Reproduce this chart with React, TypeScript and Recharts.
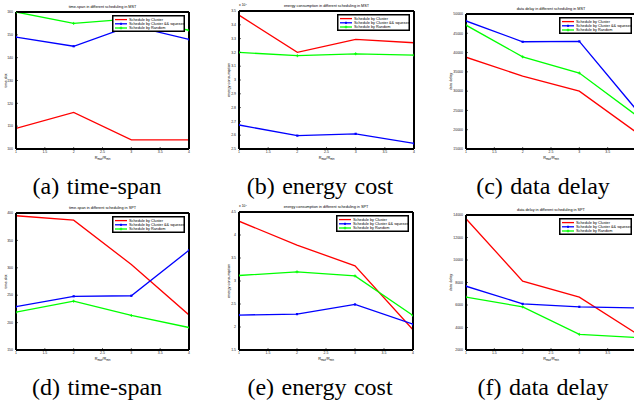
import React from 'react';
import { LineChart, Line, XAxis, YAxis, Legend } from 'recharts';

const xValues = [1, 2, 3, 4];
const xTicks = [1, 1.5, 2, 2.5, 3, 3.5, 4];
const seriesNames = ['Schedule by Cluster', 'Schedule by Cluster && squeeze', 'Schedule by Random'];
const seriesColors = ['#ff0000', '#0000ff', '#00ff00'];

// MST row
const mstSpanCluster = [109, 116, 104, 104];
const mstSpanSqueeze = [149, 145, 154, 148];
const mstSpanRandom = [160, 155, 157, 152];
const mstSpanTicks = [100, 110, 120, 130, 140, 150, 160];

const mstEnergyCluster = [3.47, 3.2, 3.295, 3.27];
const mstEnergySqueeze = [2.674, 2.597, 2.61, 2.54];
const mstEnergyRandom = [3.2, 3.176, 3.19, 3.18];
const mstEnergyTicks = [2.5, 2.6, 2.7, 2.8, 2.9, 3, 3.1, 3.2, 3.3, 3.4, 3.5];

const mstDelayCluster = [38800, 33900, 30000, 19400];
const mstDelaySqueeze = [48200, 42800, 42900, 25300];
const mstDelayRandom = [47100, 38900, 34700, 23800];
const mstDelayTicks = [15000, 20000, 25000, 30000, 35000, 40000, 45000, 50000];

// SPT row
const sptSpanCluster = [395, 387, 306, 214];
const sptSpanSqueeze = [229, 248, 249, 332];
const sptSpanRandom = [219, 239, 213, 191];
const sptSpanTicks = [150, 200, 250, 300, 350, 400];

const sptEnergyCluster = [4.3, 3.78, 3.33, 1.94];
const sptEnergySqueeze = [2.26, 2.28, 2.49, 2.06];
const sptEnergyRandom = [3.12, 3.2, 3.11, 2.25];
const sptEnergyTicks = [1.5, 2, 2.5, 3, 3.5, 4, 4.5];

const sptDelayCluster = [13670, 8120, 6700, 3480];
const sptDelaySqueeze = [7670, 6100, 5840, 5750];
const sptDelayRandom = [6700, 5840, 3390, 3120];
const sptDelayTicks = [2000, 4000, 6000, 8000, 10000, 12000, 14000];

const captions = [
  { text: '(a) time-span', x: 97, y: 194 },
  { text: '(b) energy cost', x: 320, y: 194 },
  { text: '(c) data delay', x: 543, y: 194 },
  { text: '(d) time-span', x: 97, y: 395 },
  { text: '(e) energy cost', x: 320, y: 395 },
  { text: '(f) data delay', x: 543, y: 395 },
];

const buildRows = (cluster: number[], squeeze: number[], random: number[]) =>
  xValues.map((x, i) => ({ x, cluster: cluster[i], squeeze: squeeze[i], random: random[i] }));

const ML = 20;
const MT = 12;
const MR = 10;
const MB = 14;
const FONT = "'Liberation Sans', Arial, sans-serif";
const tickStyle = { fontSize: 3.5, fill: '#222', fontFamily: FONT };
const tickLineStyle = { stroke: '#000', strokeWidth: 0.6 };
const frameStyle = { stroke: '#000', strokeWidth: 2 };

const SquareDot = (props: any) => {
  const { cx, cy, index } = props;
  if (cx == null || cy == null) return null;
  return <rect key={`sq${index}`} x={cx - 1.1} y={cy - 1.1} width={2.2} height={2.2} fill="#0000ff" />;
};

const PlusDot = (props: any) => {
  const { cx, cy, index } = props;
  if (cx == null || cy == null) return null;
  return (
    <path
      key={`pl${index}`}
      d={`M${cx - 1.5},${cy}H${cx + 1.5}M${cx},${cy - 1.5}V${cy + 1.5}`}
      stroke="#00ff00"
      strokeWidth={0.9}
    />
  );
};

function BoxLegend() {
  return (
    <svg width={73} height={17} style={{ display: 'block' }}>
      <rect x={0.75} y={0.75} width={71.5} height={15.5} fill="#fff" stroke="#000" strokeWidth={1.5} />
      {seriesNames.map((n, i) => {
        const y = 4.6 + i * 4.2;
        return (
          <g key={n}>
            <line x1={3} x2={15} y1={y} y2={y} stroke={seriesColors[i]} strokeWidth={1.3} />
            {i === 1 && <rect x={8} y={y - 1} width={2} height={2} fill="#0000ff" />}
            {i === 2 && <path d={`M7.6,${y}H10.4M9,${y - 1.4}V${y + 1.4}`} stroke="#00ff00" strokeWidth={0.9} />}
            <text x={17} y={y + 1.3} fontSize={3.8} fontFamily={FONT} fill="#000">
              {n}
            </text>
          </g>
        );
      })}
    </svg>
  );
}

interface PanelProps {
  left: number;
  top: number;
  w: number;
  h: number;
  rows: Array<{ x: number; cluster: number; squeeze: number; random: number }>;
  yTicks: number[];
  title: string;
  yLabel: string;
  yLabelGap: number;
  exponent?: boolean;
  cutRight?: boolean;
}

function Panel({ left, top, w, h, rows, yTicks, title, yLabel, yLabelGap, exponent, cutRight }: PanelProps) {
  const width = w + ML + MR;
  const height = h + MT + MB;
  const domain: [number, number] = [yTicks[0], yTicks[yTicks.length - 1]];
  const cx = ML + w / 2;
  // the last x label falls past the page edge in the right column
  const xFmt = (v: number) => (cutRight && v === 4 ? '' : String(v));
  return (
    <div style={{ position: 'absolute', left: left - ML, top: top - MT, width, height }}>
      <LineChart
        width={width}
        height={height}
        data={rows}
        margin={{ top: MT - 1, right: MR - 1, left: ML - 14, bottom: MB - 8 }}
      >
        <XAxis
          xAxisId="b"
          type="number"
          dataKey="x"
          domain={[1, 4]}
          ticks={xTicks}
          interval={0}
          allowDataOverflow
          height={8}
          axisLine={frameStyle}
          tickSize={-2}
          tickMargin={4}
          tickLine={tickLineStyle}
          tick={tickStyle}
          tickFormatter={xFmt}
        />
        <XAxis
          xAxisId="t"
          orientation="top"
          type="number"
          dataKey="x"
          domain={[1, 4]}
          ticks={xTicks}
          interval={0}
          allowDataOverflow
          height={1}
          axisLine={frameStyle}
          tickSize={-2}
          tickLine={tickLineStyle}
          tick={false}
        />
        <YAxis
          yAxisId="l"
          type="number"
          domain={domain}
          ticks={yTicks}
          interval={0}
          allowDataOverflow
          width={14}
          axisLine={frameStyle}
          tickSize={-2}
          tickMargin={5}
          tickLine={tickLineStyle}
          tick={tickStyle}
        />
        <YAxis
          yAxisId="r"
          orientation="right"
          type="number"
          domain={domain}
          ticks={yTicks}
          interval={0}
          allowDataOverflow
          width={1}
          axisLine={frameStyle}
          tickSize={-2}
          tickLine={tickLineStyle}
          tick={false}
        />
        <Line
          xAxisId="b"
          yAxisId="l"
          dataKey="cluster"
          name={seriesNames[0]}
          stroke={seriesColors[0]}
          strokeWidth={1.3}
          dot={false}
          type="linear"
          isAnimationActive={false}
        />
        <Line
          xAxisId="b"
          yAxisId="l"
          dataKey="squeeze"
          name={seriesNames[1]}
          stroke={seriesColors[1]}
          strokeWidth={1.3}
          dot={SquareDot}
          type="linear"
          isAnimationActive={false}
        />
        <Line
          xAxisId="b"
          yAxisId="l"
          dataKey="random"
          name={seriesNames[2]}
          stroke={seriesColors[2]}
          strokeWidth={1.3}
          dot={PlusDot}
          type="linear"
          isAnimationActive={false}
        />
        <Legend
          layout="horizontal"
          align="center"
          verticalAlign="middle"
          content={<BoxLegend />}
          wrapperStyle={{ left: ML + w - 4 - 73, top: MT + 2.5, width: 73, height: 17 }}
        />
      </LineChart>
      <svg
        width={width}
        height={height}
        style={{ position: 'absolute', left: 0, top: 0, pointerEvents: 'none', overflow: 'visible' }}
      >
        <text x={cx} y={MT - 3.7} textAnchor="middle" fontSize={3.8} fontFamily={FONT} fill="#000">
          {title}
        </text>
        <text x={cx} y={MT + h + 9.5} textAnchor="middle" fontSize={3.8} fontFamily={FONT} fill="#000">
          R<tspan fontSize={2.6} dy={1}>max</tspan>
          <tspan dy={-1}>/R</tspan>
          <tspan fontSize={2.6} dy={1}>min</tspan>
        </text>
        <text
          transform={`translate(${ML - yLabelGap}, ${MT + h / 2}) rotate(-90)`}
          textAnchor="middle"
          fontSize={3.8}
          fontFamily={FONT}
          fill="#000"
        >
          {yLabel}
        </text>
        {exponent && (
          <text x={ML} y={MT - 5} fontSize={3.4} fontFamily={FONT} fill="#000">
            x 10<tspan fontSize={2.4} dy={-1.5}>4</tspan>
          </text>
        )}
      </svg>
    </div>
  );
}

export default function App() {
  return (
    <div
      style={{
        position: 'absolute',
        left: 0,
        top: 0,
        width: 634,
        height: 400,
        background: '#fff',
        overflow: 'hidden',
      }}
    >
      <svg width={634} height={400} style={{ position: 'absolute', left: 0, top: 0 }}>
        {captions.map((c) => (
          <text
            key={c.text}
            x={c.x}
            y={c.y}
            textAnchor="middle"
            fontSize={24}
            fontFamily="'Liberation Serif', 'Times New Roman', serif"
            fill="#000"
            style={{ wordSpacing: 1.5 }}
          >
            {c.text}
          </text>
        ))}
      </svg>
      <Panel
        left={16}
        top={12}
        w={173}
        h={137}
        rows={buildRows(mstSpanCluster, mstSpanSqueeze, mstSpanRandom)}
        yTicks={mstSpanTicks}
        title="time-span in different scheduling in MST"
        yLabel="time slot"
        yLabelGap={9}
      />
      <Panel
        left={239}
        top={11}
        w={175}
        h={138}
        rows={buildRows(mstEnergyCluster, mstEnergySqueeze, mstEnergyRandom)}
        yTicks={mstEnergyTicks}
        title="energy consumption in different scheduling in MST"
        yLabel="energy consumption"
        yLabelGap={9}
        exponent
      />
      <Panel
        left={466}
        top={14}
        w={170}
        h={135}
        rows={buildRows(mstDelayCluster, mstDelaySqueeze, mstDelayRandom)}
        yTicks={mstDelayTicks}
        title="data delay in different scheduling in MST"
        yLabel="data delay"
        yLabelGap={14}
        cutRight
      />
      <Panel
        left={16}
        top={213}
        w={173}
        h={137}
        rows={buildRows(sptSpanCluster, sptSpanSqueeze, sptSpanRandom)}
        yTicks={sptSpanTicks}
        title="time-span in different scheduling in SPT"
        yLabel="time slot"
        yLabelGap={9}
      />
      <Panel
        left={239}
        top={212}
        w={174}
        h={138}
        rows={buildRows(sptEnergyCluster, sptEnergySqueeze, sptEnergyRandom)}
        yTicks={sptEnergyTicks}
        title="energy consumption in different scheduling in SPT"
        yLabel="energy consumption"
        yLabelGap={9}
        exponent
      />
      <Panel
        left={466}
        top={215}
        w={170}
        h={135}
        rows={buildRows(sptDelayCluster, sptDelaySqueeze, sptDelayRandom)}
        yTicks={sptDelayTicks}
        title="data delay in different scheduling in SPT"
        yLabel="data delay"
        yLabelGap={14}
        cutRight
      />
    </div>
  );
}
